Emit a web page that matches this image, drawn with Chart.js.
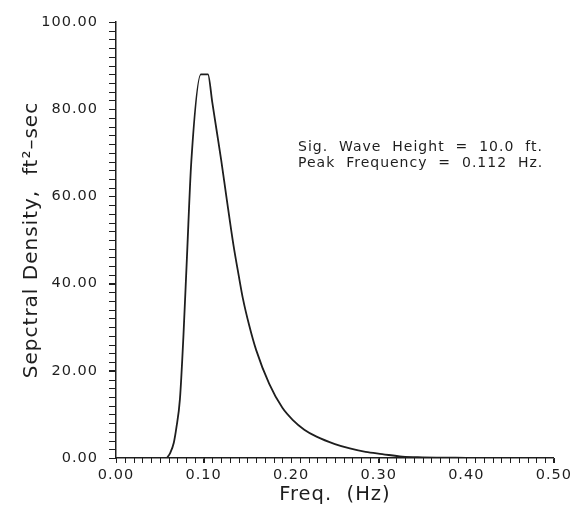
<!DOCTYPE html>
<html>
<head>
<meta charset="utf-8">
<script src="https://cdn.jsdelivr.net/npm/chart.js@4/dist/chart.umd.min.js"></script>
<style>
  html, body { margin: 0; padding: 0; background: #fff; }
  canvas { display: block; }
</style>
</head>
<body>
<canvas id="spectrumChart" width="574" height="508"></canvas>
<script>
// Wave energy spectrum
const freq = [0.058, 0.062, 0.066, 0.069, 0.073, 0.077, 0.081, 0.086, 0.097,
              0.105, 0.110, 0.115, 0.120, 0.126, 0.134, 0.140, 0.145, 0.152, 0.160,
              0.175, 0.190, 0.202, 0.215, 0.229, 0.250, 0.267, 0.285, 0.304, 0.327,
              0.350, 0.400, 0.450];
const density = [0, 1.2, 3.5, 7, 13.5, 28, 46, 68, 88,
                 88, 81.5, 75, 68.5, 60, 49, 42, 36.5, 30.5, 24.8,
                 17, 11.5, 8.7, 6.5, 4.9, 3.2, 2.2, 1.4, 0.9, 0.3,
                 0.15, 0.05, 0];

// minor tick marks every 0.01 Hz and every 2 units
const xMinorTicks = Array.from({ length: 51 }, (_, i) => i / 100);
const yMinorTicks = Array.from({ length: 51 }, (_, i) => i * 2);

const noteLines = ['Sig.  Wave  Height  =  10.0  ft.', 'Peak  Frequency  =  0.112  Hz.'];

const ink = '#1e1e1e';
const fontFamily = '"DejaVu Sans", "Liberation Sans", Arial, sans-serif';

// wide lettering for every text drawn on the canvas
const spacing = {
    id: 'spacing',
    beforeDraw(chart) { chart.ctx.letterSpacing = '1px'; },
    afterDraw(chart) { chart.ctx.letterSpacing = '0px'; }
};

// small outward tick marks along both axes
const minorTicks = {
    id: 'minorTicks',
    afterDraw(chart) {
        const { x, y } = chart.scales;
        const ctx = chart.ctx;
        ctx.save();
        ctx.strokeStyle = ink;
        ctx.lineWidth = 1;
        ctx.beginPath();
        xMinorTicks.forEach(v => {
            const px = Math.round(x.getPixelForValue(v)) + 0.5;
            ctx.moveTo(px, y.bottom);
            ctx.lineTo(px, y.bottom + 5);
        });
        yMinorTicks.forEach(v => {
            const py = Math.round(y.getPixelForValue(v)) + 0.5;
            ctx.moveTo(x.left - 7, py);
            ctx.lineTo(x.left, py);
        });
        ctx.stroke();
        ctx.restore();
    }
};

// two-line note in the upper right
const note = {
    id: 'note',
    afterDatasetsDraw(chart) {
        const ctx = chart.ctx;
        ctx.save();
        ctx.letterSpacing = '1px';
        ctx.fillStyle = ink;
        ctx.font = '14px ' + fontFamily;
        ctx.textAlign = 'left';
        ctx.textBaseline = 'alphabetic';
        noteLines.forEach((t, i) => ctx.fillText(t, 298, 151 + i * 16));
        ctx.restore();
    }
};

const ctx = document.getElementById('spectrumChart').getContext('2d');
new Chart(ctx, {
    type: 'line',
    data: {
        datasets: [{
            data: freq.map((f, i) => ({ x: f, y: density[i] })),
            borderColor: ink,
            borderWidth: 1.8,
            pointRadius: 0,
            fill: false,
            cubicInterpolationMode: 'monotone'
        }]
    },
    options: {
        responsive: false,
        animation: false,
        layout: { padding: { top: 22, right: 19, left: 0, bottom: 0 } },
        plugins: { legend: { display: false }, tooltip: { enabled: false } },
        scales: {
            x: {
                type: 'linear',
                min: 0,
                max: 0.5,
                afterFit(scale) { scale.height = 50; },
                border: { color: ink, width: 1.5 },
                grid: { drawOnChartArea: false, tickLength: 5, color: ink },
                ticks: {
                    stepSize: 0.1,
                    maxRotation: 0,
                    minRotation: 0,
                    padding: 4,
                    color: ink,
                    font: { family: fontFamily, size: 14.5 },
                    callback: v => v.toFixed(2)
                },
                title: {
                    display: true,
                    text: 'Freq.  (Hz)',
                    color: ink,
                    font: { family: fontFamily, size: 19.5 },
                    padding: { top: 0, bottom: 1 }
                }
            },
            y: {
                min: 0,
                max: 100,
                afterFit(scale) { scale.width = 116; },
                border: { color: ink, width: 1.5 },
                grid: { drawOnChartArea: false, tickLength: 7, color: ink },
                ticks: {
                    stepSize: 20,
                    padding: 11,
                    color: ink,
                    font: { family: fontFamily, size: 14.5 },
                    callback: v => v.toFixed(2)
                },
                title: {
                    display: true,
                    text: 'Sepctral Density,  ft\u00b2\u2013sec',
                    color: ink,
                    font: { family: fontFamily, size: 20 },
                    padding: { top: 20, bottom: 0 }
                }
            }
        }
    },
    plugins: [spacing, minorTicks, note]
});
</script>
</body>
</html>
